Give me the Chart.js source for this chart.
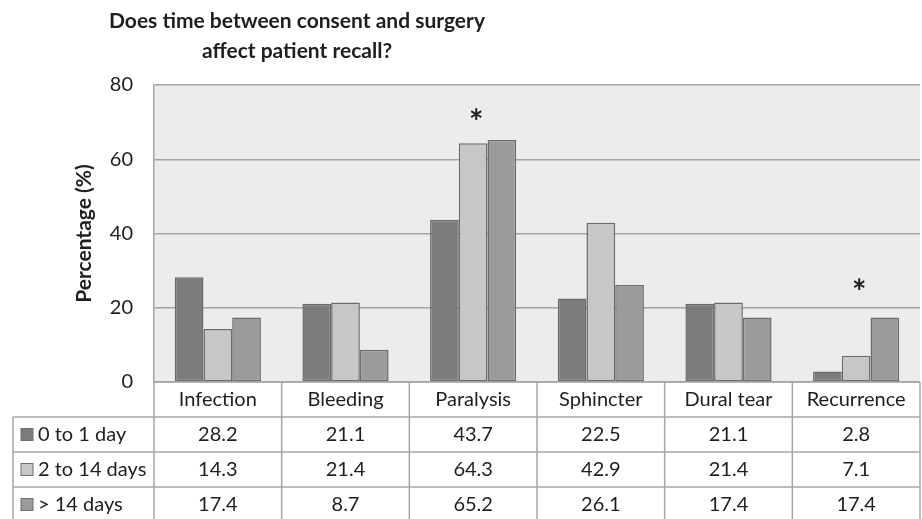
<!DOCTYPE html>
<html><head><meta charset="utf-8">
<script src="https://cdn.jsdelivr.net/npm/chart.js@4.4.0/dist/chart.umd.min.js"></script>
<style>html,body{margin:0;padding:0;background:#fff}#wrap{width:922px;height:519px}</style>
</head><body><div id="wrap"><canvas id="c" width="922" height="519"></canvas></div>
<script>
const categories = ['Infection','Bleeding','Paralysis','Sphincter','Dural tear','Recurrence'];
const seriesLabels = ['0 to 1 day','2 to 14 days','> 14 days'];
const series0to1 = [28.2,21.1,43.7,22.5,21.1,2.8];
const series2to14 = [14.3,21.4,64.3,42.9,21.4,7.1];
const seriesOver14 = [17.4,8.7,65.2,26.1,17.4,17.4];
const yTicks = [0,20,40,60,80];
const significanceMarks = ['','','*','','','*'];
const significanceLevel = [null,null,72,null,null,26];
const titleLines = ['Does time between consent and surgery','affect patient recall?'];
const yTitle = 'Percentage (%)';

const fills = ['#7b7b7b','#c6c7c6','#9a9b9a'];
const FONT = 'Lato, "Open Sans", sans-serif';

const tablePlugin = {
  id:'tablePlugin',
  beforeDraw(chart){
    const {ctx, chartArea:a} = chart;
    ctx.save(); ctx.fillStyle='#ececec';
    ctx.fillRect(a.left,a.top,a.right-a.left,a.bottom-a.top); ctx.restore();
  },
  afterDraw(chart){
    const {ctx, chartArea:a} = chart;
    const x = chart.scales.x, y = chart.scales.y;
    const rowH = 35, top = a.bottom, tableLeft = 13;
    const series = [series0to1, series2to14, seriesOver14];
    ctx.save();
    ctx.strokeStyle='#a6a6a6'; ctx.lineWidth=1.5;
    const bounds=[a.left];
    for(let i=0;i<categories.length-1;i++) bounds.push((x.getPixelForTick(i)+x.getPixelForTick(i+1))/2);
    bounds.push(a.right);
    ctx.beginPath();
    ctx.moveTo(a.left,top); ctx.lineTo(a.right,top);
    for(let r=1;r<=4;r++){ctx.moveTo(tableLeft,top+rowH*r); ctx.lineTo(a.right,top+rowH*r);}
    ctx.moveTo(tableLeft,top+rowH); ctx.lineTo(tableLeft,top+rowH*4);
    bounds.forEach(b=>{ctx.moveTo(b,top); ctx.lineTo(b,top+rowH*4);});
    ctx.stroke();
    ctx.fillStyle='#1e1e1e'; ctx.font='20px '+FONT; ctx.textBaseline='middle'; ctx.textAlign='center';
    categories.forEach((c,i)=>ctx.fillText(c,x.getPixelForTick(i),top+rowH/2));
    series.forEach((s,r)=>{
      const cy = top+rowH*(r+1)+rowH/2;
      s.forEach((v,i)=>ctx.fillText(v.toFixed(1),x.getPixelForTick(i),cy));
      ctx.fillStyle=fills[r]; ctx.fillRect(21,cy-6,12,12);
      ctx.strokeStyle='#6e6e6e'; ctx.lineWidth=1; ctx.strokeRect(21,cy-6,12,12);
      ctx.fillStyle='#1e1e1e'; ctx.textAlign='left';
      ctx.fillText(seriesLabels[r],38,cy);
      ctx.textAlign='center';
    });
    ctx.font='bold 34px '+FONT;
    significanceMarks.forEach((m,i)=>{ if(m) ctx.fillText(m,x.getPixelForTick(i)+3,y.getPixelForValue(significanceLevel[i])+8); });
    ctx.font='bold 21px '+FONT;
    ctx.fillText(titleLines[0],297,21);
    ctx.fillText(titleLines[1],297,51);
    ctx.translate(84,(a.top+a.bottom)/2); ctx.rotate(-Math.PI/2);
    ctx.font='bold 21px '+FONT; ctx.fillText(yTitle,0,0);
    ctx.restore();
  }
};

const ds = [series0to1, series2to14, seriesOver14].map((d,i)=>({
  label: seriesLabels[i], data: d, backgroundColor: fills[i],
  borderColor:'#6b6b6b', borderWidth:1.5, borderSkipped:false,
  barPercentage:1, categoryPercentage:0.675
}));

new Chart(document.getElementById('c'),{
  type:'bar',
  data:{labels:categories, datasets:ds},
  options:{
    responsive:false, animation:false,
    layout:{padding:{left:0,top:85,right:2,bottom:137}},
    plugins:{legend:{display:false},title:{display:false},tooltip:{enabled:false}},
    scales:{
      x:{display:false},
      y:{min:0,max:80,
        afterFit(s){s.width=154;},
        afterBuildTicks(s){s.ticks=yTicks.map(v=>({value:v}));},
        ticks:{padding:21,color:'#1e1e1e',font:{family:FONT,size:20}},
        grid:{color:'#a3a3a3',lineWidth:1.5,drawTicks:false},
        border:{display:true,color:'#a3a3a3',width:1.5}
      }
    }
  },
  plugins:[tablePlugin]
});
</script></body></html>
